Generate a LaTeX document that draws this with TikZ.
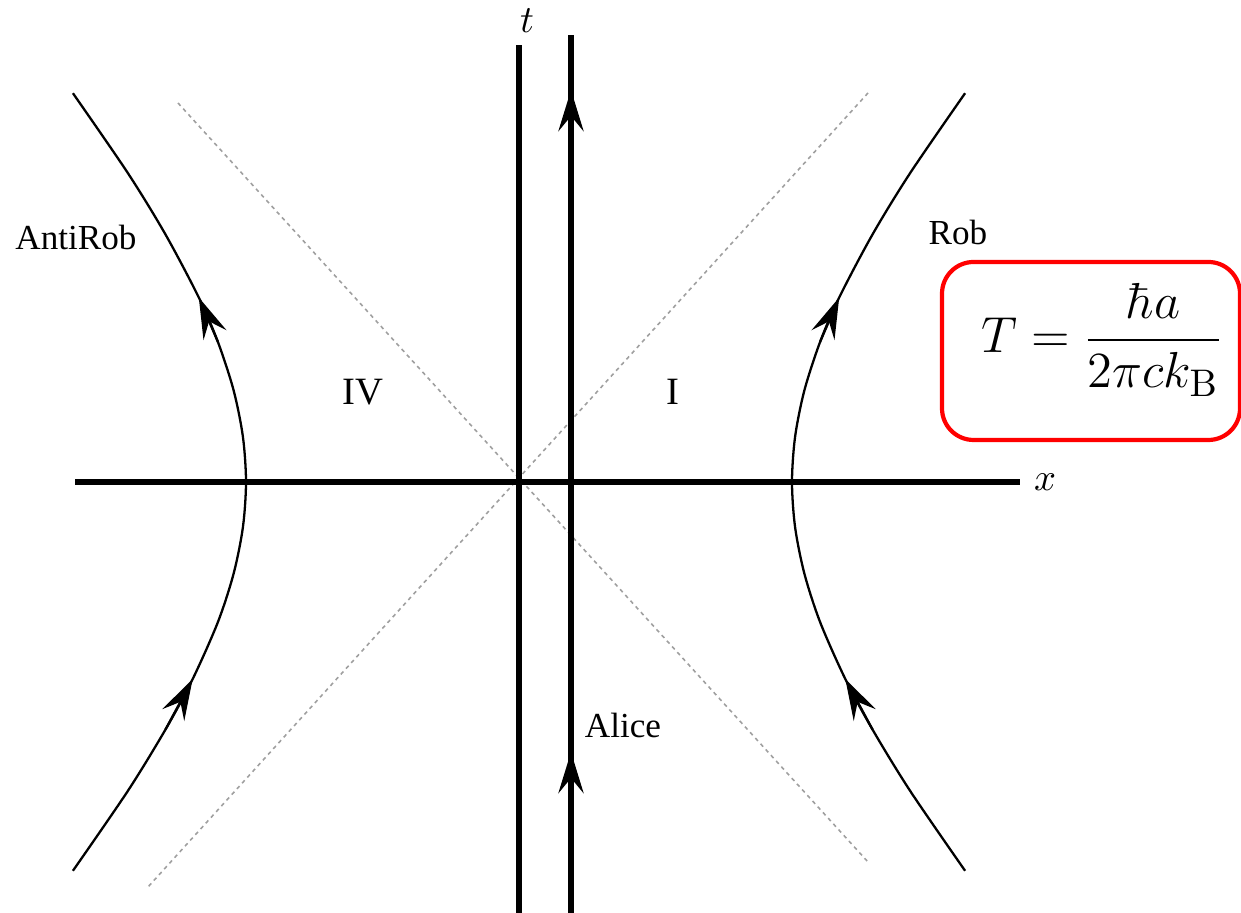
\documentclass[tikz,border=0pt]{standalone}
\usepackage[no-math]{fontspec}
\setmainfont{Liberation Serif}
\usepackage{amsmath}
\usetikzlibrary{arrows.meta}

\begin{document}
\begin{tikzpicture}[
    >={Stealth[length=4.1mm, width=2.5mm, inset=1.5mm]},
    every node/.style={font=\fontsize{10}{12}\selectfont},
    axis/.style={line width=1.7pt},
    horizon/.style={gray!75, line width=0.45pt, dash pattern=on 1.1pt off 1.1pt},
    rob/.style={line width=0.65pt},
    region/.style={font=\fontsize{11}{13}\selectfont},
    tempbox/.style={draw=red, line width=1.2pt, rounded corners=9pt,
        minimum width=29.8mm, minimum height=17.8mm, inner sep=0pt},
    formula/.style={font=\fontsize{15.5}{18}\selectfont, inner sep=0pt},
]
\useasboundingbox (0,0) rectangle (12.41,9.13);
\coordinate (O)    at (5.19,4.31);
\coordinate (xL)   at (0.75,4.31);
\coordinate (xR)   at (10.20,4.31);
\coordinate (tB)   at (5.19,0);
\coordinate (tT)   at (5.19,8.68);
\coordinate (aB)   at (5.71,0);
\coordinate (aT1)  at (5.71,1.61);
\coordinate (aM)   at (5.71,6.00);
\coordinate (aT2)  at (5.71,8.23);
\coordinate (aT)   at (5.71,8.78);
\coordinate (h1a)  at (1.78,8.10);
\coordinate (h1b)  at (8.68,0.51);
\coordinate (h2a)  at (8.68,8.20);
\coordinate (h2b)  at (1.48,0.26);
% light cone
\draw[horizon] (h1a) -- (h1b);
\draw[horizon] (h2a) -- (h2b);
% axes
\draw[axis] (xL) -- (xR);
\draw[axis] (tB) -- (tT);
\node (xlab) at (10.45,4.31) {\fontsize{11}{13}\selectfont$x$};
\node (tlab) at (5.27,8.92) {\fontsize{11}{13}\selectfont$t$};
% Alice at rest
\draw[axis] (aB) -- (aT);
\draw[axis, ->] (aB) -- (aT1);
\draw[axis, ->] (aM) -- (aT2);
\node (alice) at (6.23,1.88) {Alice};
% Rob: x = a cosh s, t = b sinh s
\draw[rob] plot[smooth] coordinates {(9.651,0.422) (9.102,1.220) (8.725,1.835) (8.453,2.340)
    (8.201,2.909) (8.044,3.393) (7.951,3.857) (7.920,4.310) (7.951,4.763) (8.044,5.227)
    (8.201,5.711) (8.392,6.155) (8.725,6.785) (9.102,7.400) (9.651,8.198)};
\draw[rob, ->] (8.725,1.835) -- (8.453,2.340);
\draw[rob, ->] (8.201,5.711) -- (8.392,6.155);
% AntiRob, mirrored
\draw[rob] plot[smooth] coordinates {(0.729,0.422) (1.278,1.220) (1.655,1.835) (1.927,2.340)
    (2.179,2.909) (2.336,3.393) (2.429,3.857) (2.460,4.310) (2.429,4.763) (2.336,5.227)
    (2.179,5.711) (1.988,6.155) (1.655,6.785) (1.278,7.400) (0.729,8.198)};
\draw[rob, ->] (1.655,1.835) -- (1.927,2.340);
\draw[rob, ->] (2.179,5.711) -- (1.988,6.155);
\node (rob)     at (9.58,6.81) {Rob};
\node (antirob) at (0.76,6.76) {AntiRob};
\node[region] (reg4) at (3.63,5.21) {IV};
\node[region] (reg1) at (6.73,5.21) {I};
% Unruh temperature
\node[tempbox] (box) at (10.91,5.62) {};
\node[formula] (temp) at (11.02,5.73)
    {$\displaystyle T=\frac{\hbar a}{2\pi c k_{\mathrm{B}}}$};
\end{tikzpicture}
\end{document}
